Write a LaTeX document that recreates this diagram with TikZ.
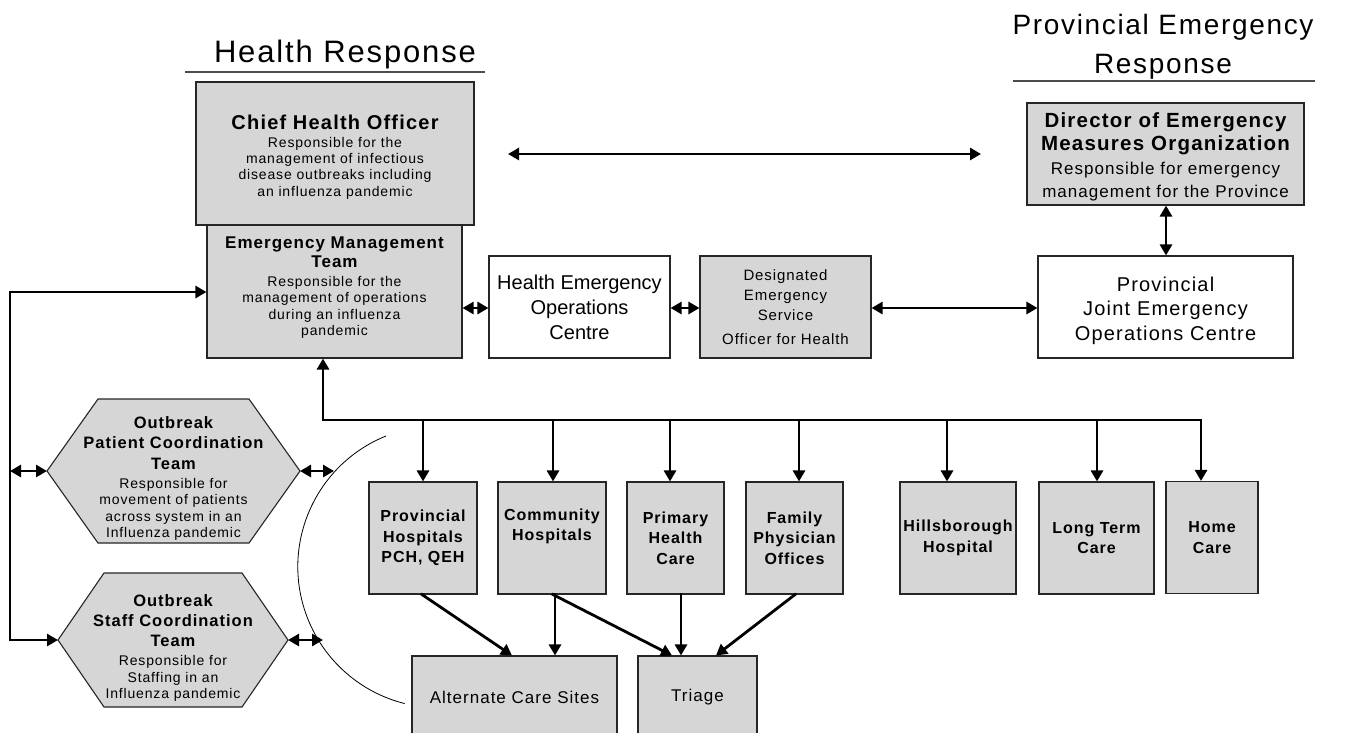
\documentclass[tikz,border=0pt]{standalone}
\usepackage{fontspec}
\setmainfont{Liberation Sans}[LetterSpace=6]
\newfontfamily\tightsans{Liberation Sans}
\usetikzlibrary{arrows.meta}
\definecolor{boxgray}{HTML}{D6D6D6}
\newcommand\fsz[2]{\fontsize{#1}{#2}\selectfont}
\tikzset{
  gbox/.style={draw=black!85, line width=1.1pt, fill=boxgray, inner sep=0pt, align=center},
  wbox/.style={draw=black!85, line width=1.1pt, fill=white, inner sep=0pt, align=center},
  txt/.style={inner sep=0pt, align=center},
  hexshape/.style={draw=black!85, line width=1.1pt, fill=boxgray},
  conn/.style={line width=2.8pt, line cap=rect},
  tip/.style={Triangle[length=11pt,width=12pt]},
  arr/.style={conn, -{Triangle[length=11pt,width=12pt]}},
  dbl/.style={conn, {Triangle[length=11pt,width=12pt]}-{Triangle[length=11pt,width=12pt]}},
  rule/.style={line width=1.2pt, draw=black!70},
}
\begin{document}
\begin{tikzpicture}[x=1pt,y=-1pt]
\useasboundingbox (0,0) rectangle (1356,732);

% section headings
\node[txt, anchor=base, font=\fsz{31}{39}] (hHealth) at (345,62) {Health Response};
\draw[rule] (185,72) -- (485,72);
\node[txt, font=\fsz{28}{39}] (hProv) at (1163,46.5) {Provincial Emergency\\Response};
\draw[rule] (1013,81) -- (1315,81);

% top level
\node[gbox, minimum width=278, minimum height=143, font=\fsz{14}{16.3}] (cho) at (335,153.5) {};
\node[txt, font=\fsz{14}{16.3}] (choText) at (335,157)
  {\fsz{20}{20}\bfseries Chief Health Officer\\[1.7pt]
   Responsible for the\\management of infectious\\disease outbreaks including\\an influenza pandemic};
\node[gbox, minimum width=277, minimum height=102] (dir) at (1165.5,154) {};
\node[txt, font=\fsz{17}{22.3}] (dirText) at (1165.5,156.5)
  {\fsz{20.5}{22}\bfseries Director of Emergency\\[1pt]
   \fsz{20.5}{22}\bfseries Measures Organization\\[2pt]
   Responsible for emergency\\management for the Province};

% operations row
\node[gbox, minimum width=255, minimum height=133] (emt) at (334.5,291.5) {};
\node[txt, font=\fsz{14}{16.5}] (emtText) at (334.5,287.5)
  {\fsz{17}{20}\bfseries Emergency Management\\[3pt]
   \fsz{17}{20}\bfseries Team\\[1.8pt]
   Responsible for the\\management of operations\\during an influenza\\pandemic};
\node[wbox, minimum width=181, minimum height=102, font=\tightsans\fsz{20}{25}] (heoc) at (579.5,307)
  {Health Emergency\\Operations\\Centre};
\node[gbox, minimum width=171, minimum height=102, font=\fsz{15}{20}] (deso) at (785.5,307)
  {Designated\\Emergency\\Service\\[4pt]Officer for Health};
\node[wbox, minimum width=255, minimum height=102] (pjeoc) at (1165.5,307) {};
\node[txt, font=\fsz{20}{24.5}] (pjeocText) at (1165.5,310.5)
  {Provincial\\Joint Emergency\\Operations Centre};

% coordination teams
\draw[hexshape] (47,471) -- (98,399) -- (249,399) -- (300,471) -- (249,543) -- (98,543) -- cycle;
\coordinate (patW) at (47,471);
\coordinate (patE) at (300,471);
\node[txt, font=\fsz{14}{16.5}] (patient) at (173.5,478.5)
  {\fsz{16.5}{20}\bfseries Outbreak\\[3.8pt]
   \fsz{16.5}{20}\bfseries Patient Coordination\\[3.8pt]
   \fsz{16.5}{20}\bfseries Team\\[2.5pt]
   Responsible for\\movement of patients\\across system in an\\Influenza pandemic};
\draw[hexshape] (58,640) -- (104,573) -- (242,573) -- (288,640) -- (242,707) -- (104,707) -- cycle;
\coordinate (stfW) at (58,640);
\coordinate (stfE) at (288,640);
\node[txt, font=\fsz{14}{16.5}] (staff) at (173,648)
  {\fsz{16.5}{20}\bfseries Outbreak\\[3.8pt]
   \fsz{16.5}{20}\bfseries Staff Coordination\\[3.8pt]
   \fsz{16.5}{20}\bfseries Team\\[2.5pt]
   Responsible for\\Staffing in an\\Influenza pandemic};

% service providers
\tikzset{svc/.style={gbox, minimum height=112, font=\fsz{16}{20.5}\bfseries}}
\node[svc, minimum width=108] (prov) at (423,538) {Provincial\\Hospitals\\PCH, QEH};
\node[svc, minimum width=108] (comm) at (552,538) {Community\\Hospitals\\\strut};
\node[svc, minimum width=97] (prim) at (675.5,538) {Primary\\Health\\Care};
\node[svc, minimum width=97] (fam) at (794.5,538) {Family\\Physician\\Offices};
\node[svc, minimum width=116] (hills) at (958,538) {Hillsborough\\Hospital};
\node[svc, minimum width=115] (ltc) at (1096.5,538) {Long Term\\Care};
\node[svc, minimum width=92] (home) at (1212,537.5) {Home\\Care};

\node[gbox, minimum width=205, minimum height=82, font=\fsz{17}{20}] (alt) at (514.5,697) {Alternate Care Sites};
\node[gbox, minimum width=119, minimum height=82, font=\fsz{17}{20}] (tri) at (697.5,697) {Triage};

% links between health and provincial response
\coordinate (linkL) at (508,154);
\coordinate (linkR) at (981,154);
\draw[dbl] (linkL) -- (linkR);
\draw[dbl] (dir.south -| 1166,0) -- (pjeoc.north -| 1166,0);
\draw[dbl] (emt.east |- 0,308) -- (heoc.west |- 0,308);
\draw[dbl] (heoc.east |- 0,308) -- (deso.west |- 0,308);
\draw[dbl] (deso.east |- 0,308) -- (pjeoc.west |- 0,308);

% distribution bus
\coordinate (busL) at (323,420);
\coordinate (busR) at (1201,420);
\draw[arr] (busL) -- (emt.south -| busL);
\draw[conn] (busL) -- (busR);
\foreach \xx/\nn in {423/prov, 553/comm, 670/prim, 799/fam, 947/hills, 1097/ltc, 1201/home}
  \draw[arr] (\xx,420) -- (\nn.north -| \xx,0);

% flows to alternate care and triage
\draw[arr] (prov.south -| 422,0) -- (alt.north -| 512,0);
\draw[arr] (comm.south -| 555,0) -- (alt.north -| 555,0);
\draw[arr] (comm.south -| 553,0) -- (tri.north -| 672,0);
\draw[arr] (prim.south -| 681,0) -- (tri.north -| 681,0);
\draw[arr] (fam.south -| 795,0) -- (tri.north -| 716,0);

% left feedback loop
\coordinate (loopT) at (10,292);
\coordinate (loopB) at (10,640);
\coordinate (loopM) at (10,471);
\draw[dbl] (stfW) -- (loopB) -- (loopT) -- (emt.west |- loopT);
\draw[dbl] (loopM) -- (patW);
\coordinate (patArc) at (334,471);
\coordinate (stfArc) at (323,640);
\draw[dbl] (patE) -- (patArc);
\draw[dbl] (stfE) -- (stfArc);

% boundary arc around the service providers
\draw[line width=0.8pt] (386,436) arc[start angle=-112, end angle=-256, radius=141];
\end{tikzpicture}
\end{document}
